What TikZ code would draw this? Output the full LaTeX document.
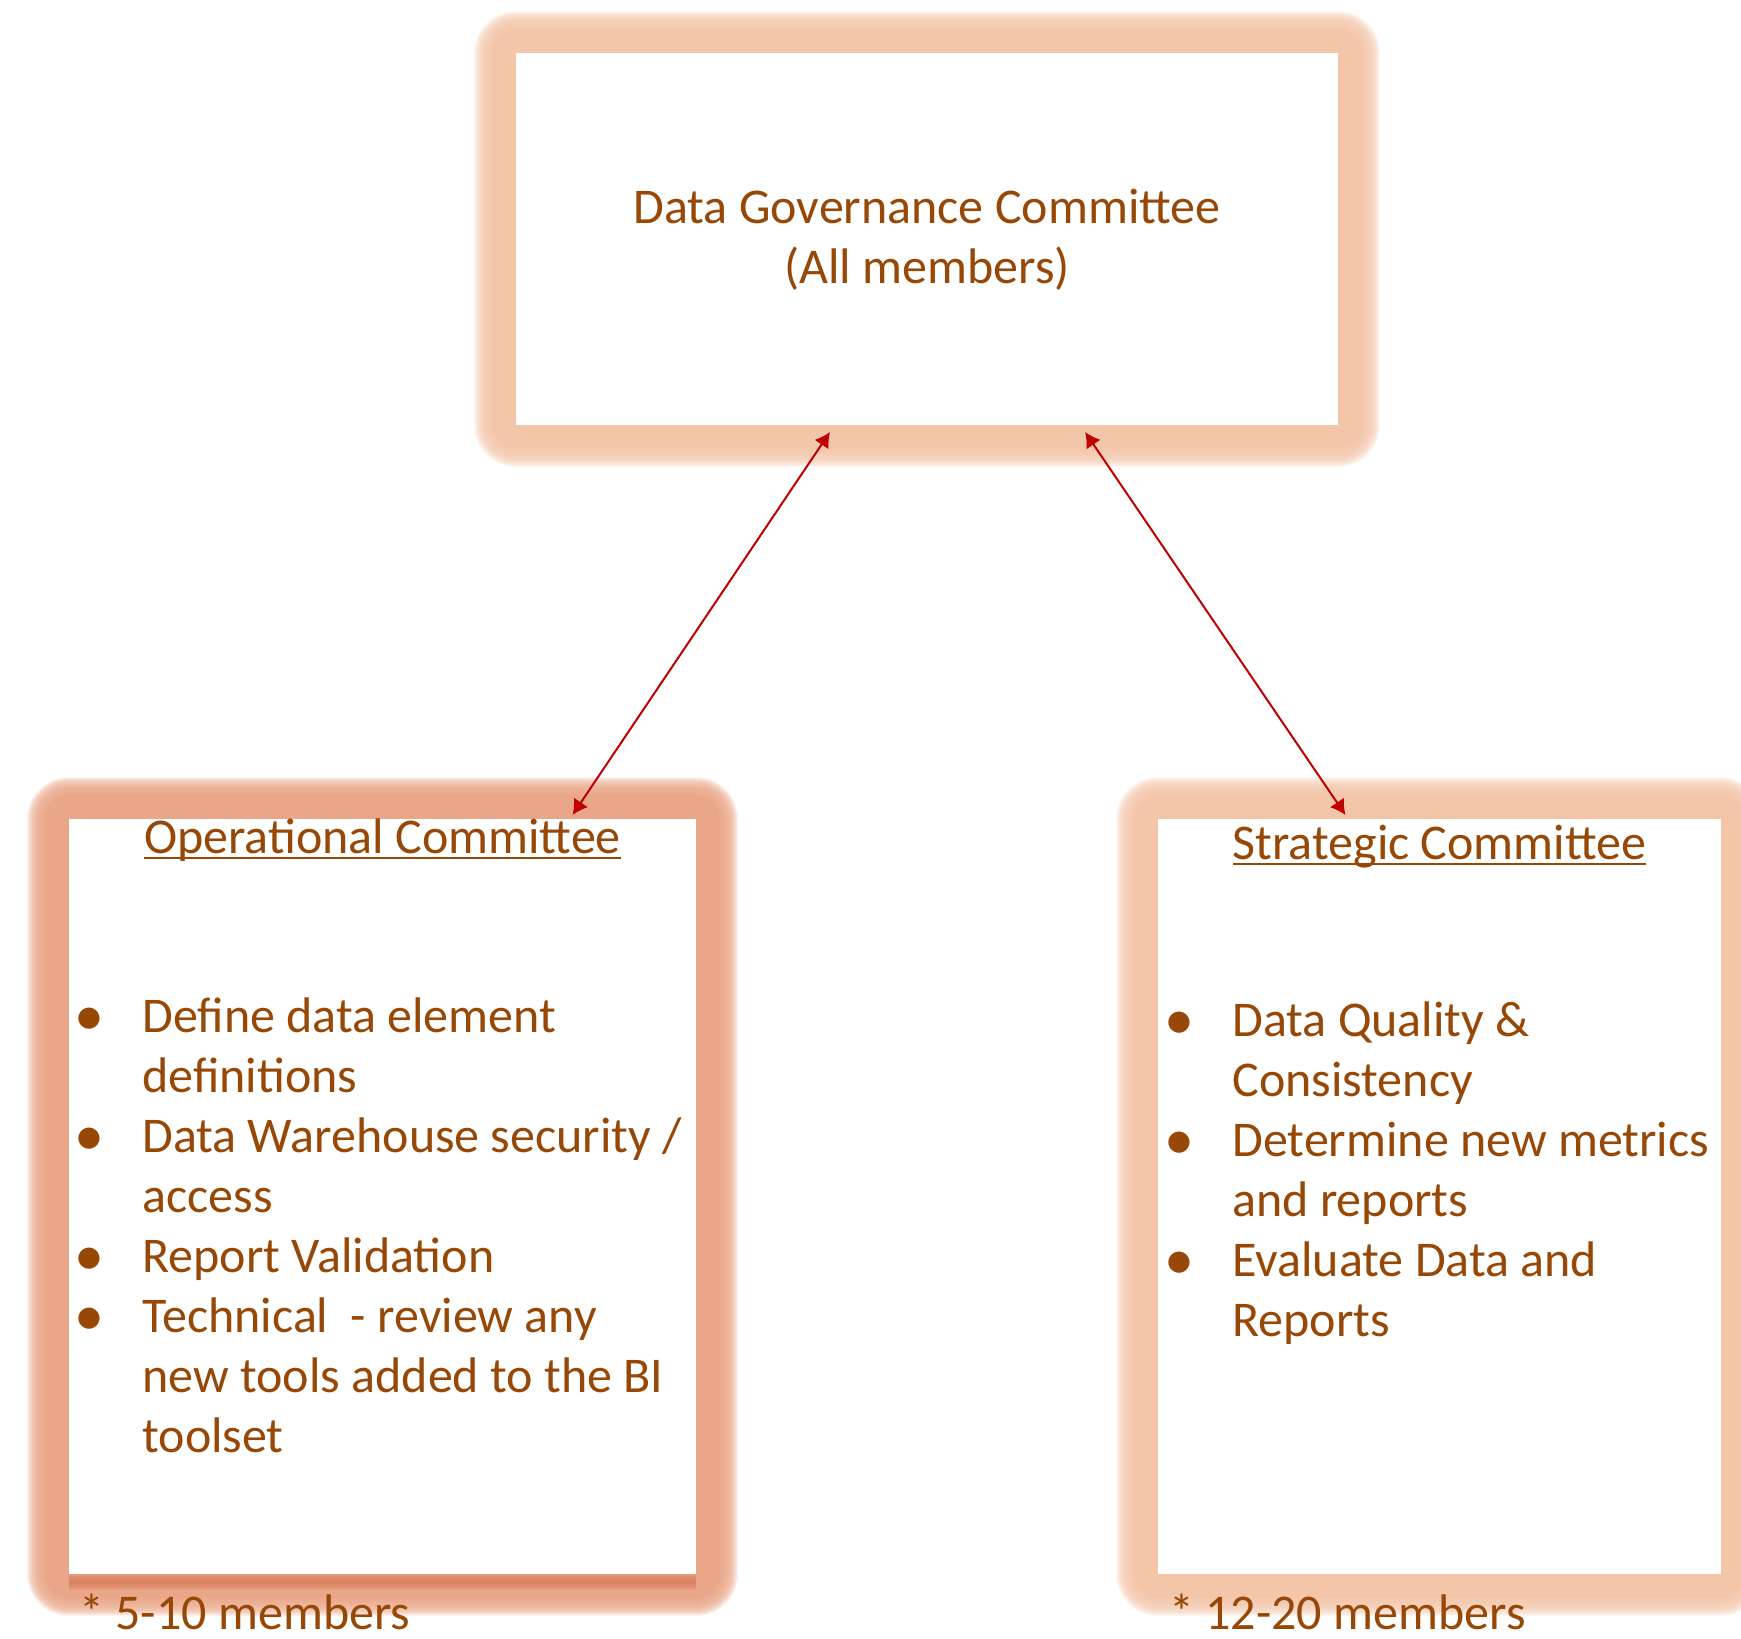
\documentclass[tikz,border=0pt]{standalone}
\usepackage{fontspec}
\setmainfont{Carlito}
\usetikzlibrary{arrows.meta,backgrounds}
\definecolor{brownish}{RGB}{151,71,6}
\definecolor{peach}{RGB}{243,198,170}
\definecolor{salmon}{RGB}{233,166,136}
\definecolor{rust}{RGB}{212,108,74}
\definecolor{arrowred}{RGB}{192,0,0}
\tikzstyle{panel} = [fill=white, outer sep=0pt]
\tikzstyle{halo} = [line join=round, draw opacity=.15]
\tikzstyle{txt} = [text=brownish, font=\fontsize{25}{30}\selectfont, inner sep=0pt]
\tikzstyle{duty} = [txt, align=left, anchor=north west]
\tikzstyle{link} = [{Latex[length=7.5pt,width=8.5pt]}-{Latex[length=7.5pt,width=8.5pt]}, draw=arrowred, line width=1pt]
\newcommand\ulined[1]{\setbox0\hbox{#1}\rlap{\rule[-3.2pt]{\wd0}{1.1pt}}\box0}
\newcommand\blt{\makebox[31.5pt][l]{\kern-2.5pt\raisebox{-1.6pt}{\scalebox{1.2}{\textbullet}}}}
\newcommand\ind{\hspace*{31.5pt}}

\begin{document}
\begin{tikzpicture}[x=0.5pt,y=-0.5pt]
  \useasboundingbox (0,0) rectangle (1741,1639);
  \node[panel, minimum width=411pt, minimum height=186pt] (gov) at (927,239) {};
  \node[panel, minimum width=313.5pt, minimum height=377.5pt] (op) at (382.5,1196.5) {};
  \node[panel, minimum width=281.5pt, minimum height=377.5pt] (st) at (1439.5,1196.5) {};
  \begin{scope}[on background layer]
    \foreach \n/\c in {gov/peach, op/salmon, st/peach} {
      \draw[\c, line width=24pt, line join=round] (\n.south west) rectangle (\n.north east);
      \foreach \w in {25,...,42}
        \draw[\c, halo, line width=\w pt] (\n.south west) rectangle (\n.north east);
    }
  \end{scope}
  \foreach \w in {2,4,6,8}
    \draw[rust, line width=\w pt, draw opacity=.2] ([yshift=-4pt]op.south west) -- ([yshift=-4pt]op.south east);
  \node[txt, align=center, anchor=north] (govtext) at (927,181) {\strut Data Governance Committee\\(All members)};
  \node[txt, anchor=base] (ophead) at (382.5,853) {\ulined{Operational Committee}};
  \node[txt, anchor=base] (sthead) at (1439.5,859) {\ulined{Strategic Committee}};
  \node[duty] (opduty) at (79,990) {\strut\blt Define data element\\\ind definitions\\
    \blt Data Warehouse security /\\\ind access\\
    \blt Report Validation\\
    \blt Technical\ \ - review any\\\ind new tools added to the BI\\\ind toolset};
  \node[duty] (stduty) at (1169,994) {\strut\blt Data Quality \&\\\ind Consistency\\
    \blt Determine new metrics\\\ind and reports\\
    \blt Evaluate Data and\\\ind Reports};
  \node[txt, anchor=base west] (opsize) at (79,1629) {* 5-10 members};
  \node[txt, anchor=base west] (stsize) at (1169,1629) {* 12-20 members};
  \draw[link] ([xshift=-48.5pt,yshift=-3.5pt]gov.south) -- ([xshift=95pt,yshift=2pt]op.north);
  \draw[link] ([xshift=79pt,yshift=-3.5pt]gov.south) -- ([xshift=-47pt,yshift=2pt]st.north);
\end{tikzpicture}
\end{document}
